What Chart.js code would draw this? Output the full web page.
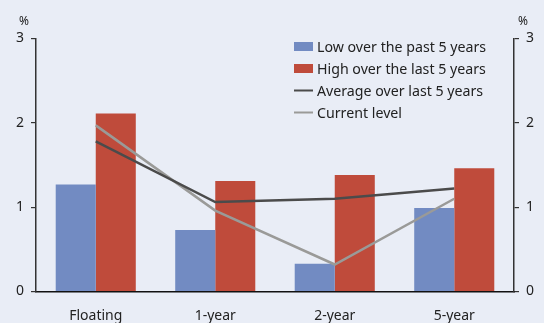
<!DOCTYPE html>
<html>
<head>
<meta charset="utf-8">
<script src="https://cdn.jsdelivr.net/npm/chart.js@4/dist/chart.umd.min.js"></script>
<style>
  html, body { margin: 0; padding: 0; background: #e9edf6; }
  #wrap { width: 544px; height: 323px; position: relative; }
</style>
</head>
<body>
<div id="wrap"><canvas id="myChart" width="544" height="323"></canvas></div>
<script>
var categories = ["Floating", "1-year", "2-year", "5-year"];
var lowValues = [1.27, 0.73, 0.33, 0.99];
var highValues = [2.11, 1.31, 1.38, 1.46];
var averageValues = [1.78, 1.06, 1.10, 1.22];
var currentValues = [1.97, 0.96, 0.32, 1.10];
var yTicks = [0, 1, 2, 3];
var unitLabel = "%";

var FONT = "'Noto Sans', sans-serif";

// draws the % labels and the legend inside the plot
var extras = {
  id: "extras",
  afterDraw: function(chart) {
    var ctx = chart.ctx;
    var area = chart.chartArea;
    ctx.save();
    ctx.fillStyle = "#222";
    ctx.font = "12px " + FONT;
    ctx.textBaseline = "middle";
    ctx.textAlign = "center";
    ctx.fillText(unitLabel, area.left - 12, 22);
    ctx.fillText(unitLabel, area.right + 9, 22);

    var x = 294, y = 46.5;
    ctx.font = "14.2px " + FONT;
    ctx.textAlign = "left";
    chart.data.datasets.forEach(function(ds) {
      if (ds.type === "line") {
        ctx.strokeStyle = ds.borderColor;
        ctx.lineWidth = 2;
        ctx.beginPath();
        ctx.moveTo(x, y);
        ctx.lineTo(x + 19, y);
        ctx.stroke();
      } else {
        ctx.fillStyle = ds.backgroundColor;
        ctx.fillRect(x, y - 4.5, 19, 9);
      }
      ctx.fillStyle = "#222";
      ctx.fillText(ds.label, x + 23, y + 1);
      y += 22;
    });
    ctx.restore();
  }
};

var ctx = document.getElementById("myChart").getContext("2d");

var chart = new Chart(ctx, {
  type: "bar",
  data: {
    labels: categories,
    datasets: [
      {
        label: "Low over the past 5 years",
        data: lowValues,
        backgroundColor: "#728bc2",
        order: 2
      },
      {
        label: "High over the last 5 years",
        data: highValues,
        backgroundColor: "#bf4b3b",
        order: 2
      },
      {
        type: "line",
        label: "Average over last 5 years",
        data: averageValues,
        borderColor: "#4b4b4b",
        borderWidth: 2.5,
        pointRadius: 0,
        yAxisID: "y1",
        order: 0
      },
      {
        type: "line",
        label: "Current level",
        data: currentValues,
        borderColor: "#9a9a98",
        borderWidth: 2.5,
        pointRadius: 0,
        yAxisID: "y1",
        order: 1
      }
    ]
  },
  options: {
    responsive: false,
    animation: false,
    devicePixelRatio: 1,
    layout: { padding: { top: 38.5, right: 0, left: 0, bottom: 0 } },
    datasets: {
      bar: { barPercentage: 1, categoryPercentage: 0.67 }
    },
    plugins: {
      legend: { display: false },
      tooltip: { enabled: false }
    },
    scales: {
      x: {
        offset: true,
        grid: { display: false },
        border: { color: "#111", width: 1.5 },
        ticks: { color: "#222", font: { family: FONT, size: 14 }, padding: 8.5 },
        afterFit: function(scale) { scale.height = 31.5; }
      },
      y: {
        position: "left",
        min: 0,
        max: 3,
        afterBuildTicks: function(scale) {
          scale.ticks = yTicks.map(function(v) { return { value: v }; });
        },
        grid: { drawOnChartArea: false, tickLength: 5, color: "#333", lineWidth: 1.2 },
        border: { color: "#333", width: 1.5 },
        ticks: { color: "#222", font: { family: FONT, size: 14 }, padding: 7 },
        afterFit: function(scale) { scale.width = 36; }
      },
      y1: {
        position: "right",
        min: 0,
        max: 3,
        afterBuildTicks: function(scale) {
          scale.ticks = yTicks.map(function(v) { return { value: v }; });
        },
        grid: { drawOnChartArea: false, tickLength: 5, color: "#333", lineWidth: 1.2 },
        border: { color: "#333", width: 1.5 },
        ticks: { color: "#222", font: { family: FONT, size: 14 }, padding: 7 },
        afterFit: function(scale) { scale.width = 30; }
      }
    }
  },
  plugins: [extras]
});
</script>
</body>
</html>
